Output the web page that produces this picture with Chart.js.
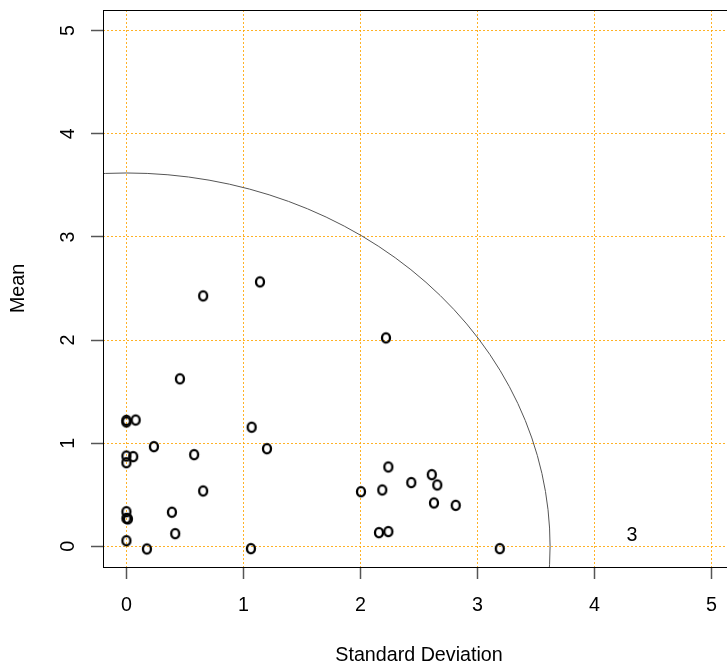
<!DOCTYPE html>
<html>
<head>
<meta charset="utf-8">
<script src="https://cdn.jsdelivr.net/npm/chart.js@4/dist/chart.umd.min.js"></script>
<style>
  html, body { margin: 0; padding: 0; background: #fff; overflow: hidden; }
  #wrap { width: 745px; height: 666px; }
</style>
</head>
<body>
<div id="wrap"><canvas id="chart" width="745" height="666"></canvas></div>
<script>
// Mean vs standard deviation, one "o" per asset
const stdDev = [0.656, 1.141, 2.218, 0.457, 0.0, 0.0, 0.079, 1.070, 0.235, 1.201,
                0.0, 0.058, 0.579, 0.0, 2.238, 2.004, 2.186, 2.434, 2.609, 2.656,
                2.628, 2.814, 0.656, 0.389, 0.0, 0.0, 0.013, 0.417, 2.158, 2.238,
                0.0, 0.175, 1.064, 3.190];
const mean = [2.428, 2.564, 2.021, 1.624, 1.222, 1.206, 1.225, 1.155, 0.967, 0.947,
              0.876, 0.870, 0.889, 0.811, 0.770, 0.530, 0.547, 0.618, 0.695, 0.595,
              0.421, 0.398, 0.537, 0.331, 0.336, 0.272, 0.266, 0.123, 0.133, 0.143,
              0.055, -0.025, -0.022, -0.022];
const xTicks = [0, 1, 2, 3, 4, 5];
const yTicks = [0, 1, 2, 3, 4, 5];
const radius = 3.62;
const note = { text: '3', x: 4.32, y: 0.105 };

const FONT = '19.7px "Liberation Sans", Arial, sans-serif';

// letter-like "o" marker
const marker = document.createElement('canvas');
marker.width = 14;
marker.height = 15;
(function () {
    const c = marker.getContext('2d');
    c.strokeStyle = '#000';
    c.lineWidth = 2.3;
    c.beginPath();
    c.ellipse(7, 7.5, 4, 4.6, 0, 0, Math.PI * 2);
    c.stroke();
})();

const rPlot = {
    id: 'rPlot',
    beforeDatasetsDraw(chart) {
        const { ctx, chartArea: a, scales: { x, y } } = chart;
        // circle of given radius, clipped to plot region
        ctx.save();
        ctx.beginPath();
        ctx.rect(a.left, a.top, a.right - a.left, a.bottom - a.top);
        ctx.clip();
        ctx.strokeStyle = '#555';
        ctx.lineWidth = 1;
        ctx.beginPath();
        const cx = x.getPixelForValue(0), cy = y.getPixelForValue(0);
        ctx.ellipse(cx, cy, x.getPixelForValue(radius) - cx, cy - y.getPixelForValue(radius), 0, 0, Math.PI * 2);
        ctx.stroke();
        ctx.restore();
    },
    afterDraw(chart) {
        const { ctx, chartArea: a, scales: { x, y } } = chart;
        ctx.save();
        // box
        ctx.strokeStyle = '#000';
        ctx.lineWidth = 1;
        ctx.strokeRect(Math.round(a.left) + 0.5, Math.round(a.top) + 0.5,
                       Math.round(a.right - a.left), Math.round(a.bottom - a.top));

        ctx.fillStyle = '#000';
        ctx.font = FONT;
        ctx.textAlign = 'center';
        ctx.textBaseline = 'alphabetic';

        // x tick labels
        xTicks.forEach(v => ctx.fillText(String(v), x.getPixelForValue(v), 611));
        // y tick labels, rotated like R
        yTicks.forEach(v => {
            ctx.save();
            ctx.translate(74, y.getPixelForValue(v));
            ctx.rotate(-Math.PI / 2);
            ctx.fillText(String(v), 0, 0);
            ctx.restore();
        });

        // axis titles
        ctx.fillText('Standard Deviation', (a.left + a.right) / 2, 661);
        ctx.save();
        ctx.translate(24, (a.top + a.bottom) / 2);
        ctx.rotate(-Math.PI / 2);
        ctx.fillText('Mean', 0, 0);
        ctx.restore();

        // text annotation
        ctx.textBaseline = 'middle';
        ctx.fillText(note.text, x.getPixelForValue(note.x), y.getPixelForValue(note.y));
        ctx.restore();
    }
};

const gridOpts = {
    color: 'rgba(255,165,0,0.85)',
    lineWidth: 1,
    drawTicks: true,
    tickLength: 12,
    tickColor: '#555',
    tickWidth: 1.5
};

new Chart(document.getElementById('chart'), {
    type: 'scatter',
    data: {
        datasets: [{
            data: stdDev.map((s, i) => ({ x: s, y: mean[i] })),
            pointStyle: marker,
            pointRadius: 5,
            pointHoverRadius: 5
        }]
    },
    options: {
        responsive: false,
        animation: false,
        layout: { padding: { left: 0, top: 10, right: 10, bottom: 0 } },
        plugins: { legend: { display: false }, tooltip: { enabled: false } },
        scales: {
            x: {
                type: 'linear',
                min: -0.2,
                max: 5.2,
                afterBuildTicks: s => { s.ticks = xTicks.map(v => ({ value: v })); },
                afterFit: s => { s.height = 99; },
                ticks: { display: false },
                grid: gridOpts,
                border: { display: false, dash: [2, 2] }
            },
            y: {
                type: 'linear',
                min: -0.2,
                max: 5.2,
                afterBuildTicks: s => { s.ticks = yTicks.map(v => ({ value: v })); },
                afterFit: s => { s.width = 103; },
                ticks: { display: false },
                grid: gridOpts,
                border: { display: false, dash: [2, 2] }
            }
        }
    },
    plugins: [rPlot]
});
</script>
</body>
</html>
